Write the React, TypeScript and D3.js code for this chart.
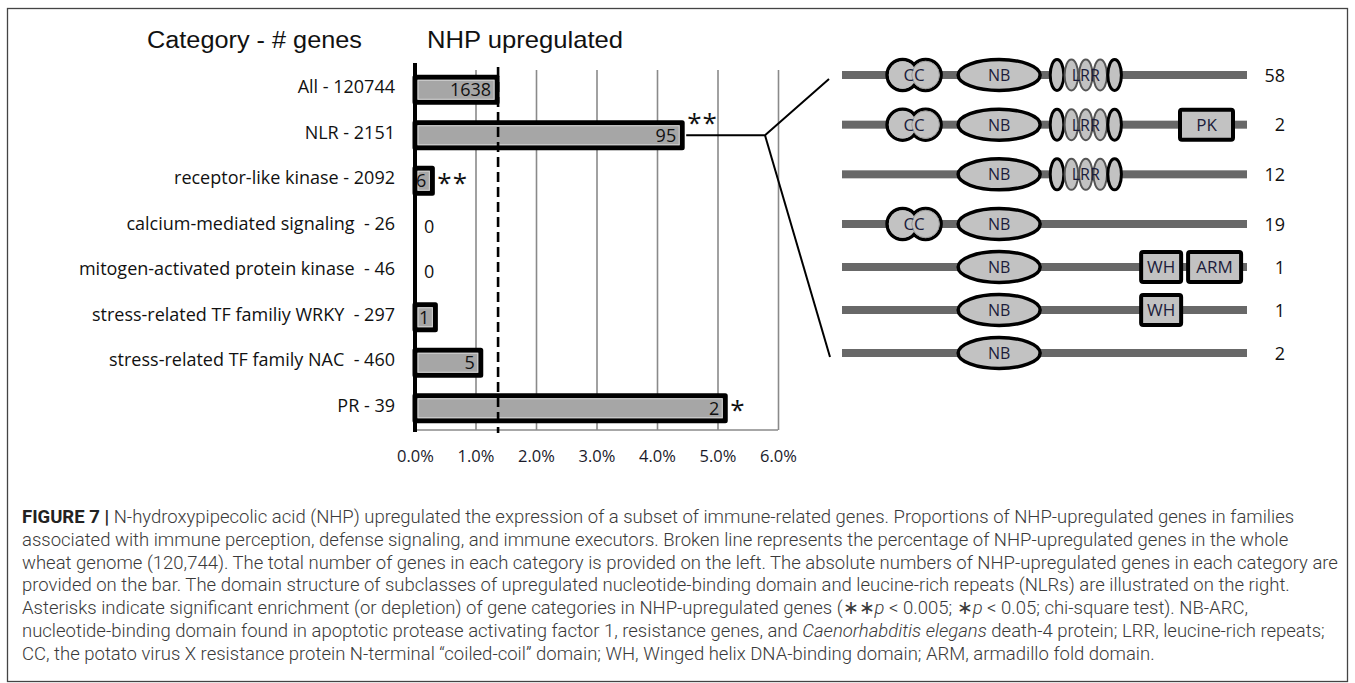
import React from "react";
import * as d3 from "d3";

// left panel: gene categories
const categories = [
    "All - 120744",
    "NLR - 2151",
    "receptor-like kinase - 2092",
    "calcium-mediated signaling  - 26",
    "mitogen-activated protein kinase  - 46",
    "stress-related TF familiy WRKY  - 297",
    "stress-related TF family NAC  - 460",
    "PR - 39",
];
const totalGenes = [120744, 2151, 2092, 26, 46, 297, 460, 39];
const upregulated = [1638, 95, 6, 0, 0, 1, 5, 2];
const significance = ["", "**", "**", "", "", "", "", "*"];
const xTicks = [0, 0.01, 0.02, 0.03, 0.04, 0.05, 0.06];

// right panel: NLR subclasses
const subclassDomains = [
    ["CC", "NB", "LRR"],
    ["CC", "NB", "LRR", "PK"],
    ["NB", "LRR"],
    ["CC", "NB"],
    ["NB", "WH", "ARM"],
    ["NB", "WH"],
    ["NB"],
];
const subclassCounts = [58, 2, 12, 19, 1, 1, 2];

const captionLines: { t: string; s?: "b" | "i" }[][] = [
    [{ t: "FIGURE 7 | ", s: "b" }, { t: "N-hydroxypipecolic acid (NHP) upregulated the expression of a subset of immune-related genes. Proportions of NHP-upregulated genes in families" }],
    [{ t: "associated with immune perception, defense signaling, and immune executors. Broken line represents the percentage of NHP-upregulated genes in the whole" }],
    [{ t: "wheat genome (120,744). The total number of genes in each category is provided on the left. The absolute numbers of NHP-upregulated genes in each category are" }],
    [{ t: "provided on the bar. The domain structure of subclasses of upregulated nucleotide-binding domain and leucine-rich repeats (NLRs) are illustrated on the right." }],
    [{ t: "Asterisks indicate significant enrichment (or depletion) of gene categories in NHP-upregulated genes (\u2217\u2217" }, { t: "p", s: "i" }, { t: " < 0.005; \u2217" }, { t: "p", s: "i" }, { t: " < 0.05; chi-square test). NB-ARC," }],
    [{ t: "nucleotide-binding domain found in apoptotic protease activating factor 1, resistance genes, and " }, { t: "Caenorhabditis elegans", s: "i" }, { t: " death-4 protein; LRR, leucine-rich repeats;" }],
    [{ t: "CC, the potato virus X resistance protein N-terminal \u201ccoiled-coil\u201d domain; WH, Winged helix DNA-binding domain; ARM, armadillo fold domain." }],
];

const W = 1355;
const H = 683;
const labelFont = "'Open Sans', 'DejaVu Sans', sans-serif";
const titleFont = "'Liberation Sans', Arial, sans-serif";

export default class App extends React.Component {
    private readonly svgRef = React.createRef<SVGSVGElement>();

    public render() {
        return <div style={{ position: "absolute", left: 0, top: 0 }}>
            <svg ref={this.svgRef} width={W} height={H}></svg>
        </div>;
    }

    public componentDidMount() {
        this.draw();
    }

    private readonly draw = (): void => {
        const svg = d3.select(this.svgRef.current);
        svg.selectAll("*").remove();
        svg.append("rect").attr("width", W).attr("height", H).attr("fill", "#fff");

        // frame
        svg.append("rect")
            .attr("x", 7.5).attr("y", 8.5).attr("width", 1340).attr("height", 673)
            .attr("fill", "none").attr("stroke", "#444").attr("stroke-width", 1.3);

        const rows = categories.map((label, i) => ({
            label,
            up: upregulated[i],
            sig: significance[i],
            pct: upregulated[i] / totalGenes[i],
        }));
        const basePct = rows[0].pct;

        const x = d3.scaleLinear().domain([0, 0.06]).range([415, 778]);
        const y = d3.scaleBand<string>().domain(categories).range([67, 431])
            .paddingInner(0.45).paddingOuter(0.225);
        const cy = (d: string) => (y(d) as number) + y.bandwidth() / 2;

        // titles
        svg.append("text").attr("x", 147).attr("y", 48)
            .attr("font-family", titleFont).attr("font-size", 23).attr("fill", "#111")
            .attr("textLength", 215).attr("lengthAdjust", "spacingAndGlyphs")
            .text("Category - # genes");
        svg.append("text").attr("x", 427).attr("y", 48)
            .attr("font-family", titleFont).attr("font-size", 24).attr("fill", "#111")
            .attr("textLength", 196).attr("lengthAdjust", "spacingAndGlyphs")
            .text("NHP upregulated");

        // gridlines
        svg.append("g")
            .attr("transform", "translate(0,430)")
            .call(d3.axisBottom(x).tickValues(xTicks.slice(1)).tickSize(-360).tickFormat(() => ""))
            .call(g => g.select(".domain").remove())
            .call(g => g.selectAll(".tick line").attr("stroke", "#8a8a8a").attr("stroke-width", 1.6));
        svg.append("line")
            .attr("x1", x(0)).attr("x2", x(0.06)).attr("y1", 430).attr("y2", 430)
            .attr("stroke", "#8a8a8a").attr("stroke-width", 1.6);

        // tick labels
        svg.append("g")
            .attr("transform", "translate(0,430)")
            .call(d3.axisBottom(x).tickValues(xTicks).tickSize(0).tickPadding(20).tickFormat(d3.format(".1%")))
            .call(g => g.select(".domain").remove())
            .call(g => g.selectAll(".tick text")
                .attr("font-family", labelFont).attr("font-size", 16.5).attr("fill", "#1a1a2a"));

        // category labels
        svg.append("g").selectAll("text").data(rows).enter().append("text")
            .attr("x", 395).attr("y", d => cy(d.label) + 3.5)
            .attr("text-anchor", "end")
            .attr("font-family", labelFont).attr("font-size", 18).attr("fill", "#111")
            .style("white-space", "pre")
            .text(d => d.label);

        // bars
        const bar = svg.append("g").selectAll("g").data(rows.filter(d => d.up > 0)).enter().append("g");
        bar.append("rect")
            .attr("x", x(0)).attr("y", d => y(d.label) as number)
            .attr("width", d => x(d.pct) - x(0)).attr("height", y.bandwidth())
            .attr("fill", "#a6a6a6").attr("stroke", "#000").attr("stroke-width", 5)
            .attr("stroke-linejoin", "round");
        bar.append("rect")
            .attr("x", x(0) + 3).attr("y", d => (y(d.label) as number) + 3)
            .attr("width", d => Math.max(0, x(d.pct) - x(0) - 6)).attr("height", y.bandwidth() - 6)
            .attr("fill", "none").attr("stroke", "#d4d4d4").attr("stroke-width", 1);

        // value labels
        svg.append("g").selectAll("text").data(rows).enter().append("text")
            .attr("x", d => d.up > 0 ? x(d.pct) - 6 : x(0) + 9)
            .attr("y", d => cy(d.label) + 6.5)
            .attr("text-anchor", d => d.up > 0 ? "end" : "start")
            .attr("font-family", labelFont).attr("font-size", 18).attr("fill", "#111")
            .text(d => d.up);

        // asterisks
        svg.append("g").selectAll("text").data(rows.filter(d => d.sig)).enter().append("text")
            .attr("x", d => x(d.pct) + 5)
            .attr("y", d => cy(d.label) + (d.label.startsWith("NLR") ? -3 : 11))
            .attr("font-family", labelFont).attr("font-size", 26).attr("fill", "#111")
            .attr("letter-spacing", 1)
            .text(d => d.sig);

        // left axis
        svg.append("line")
            .attr("x1", x(0)).attr("x2", x(0)).attr("y1", 63).attr("y2", 432)
            .attr("stroke", "#000").attr("stroke-width", 4);

        // whole genome baseline
        svg.append("line")
            .attr("x1", x(basePct) + 1).attr("x2", x(basePct) + 1).attr("y1", 67).attr("y2", 433)
            .attr("stroke", "#000").attr("stroke-width", 2.6).attr("stroke-dasharray", "10,5");

        // right panel
        const pos = d3.scaleLinear().domain([0, 100]).range([842, 1247]);
        const rowY = d3.scaleLinear().domain([0, 3, 6]).range([75, 224, 353]);
        const center: Record<string, number> = { CC: 17.8, NB: 38.8, LRR: 60.2, WH: 78.8, PK: 90, ARM: 92 };
        const boxW: Record<string, number> = { WH: 40, PK: 53, ARM: 53 };
        const domFill = "#c2c2c2";

        // connector from NLR bar
        const nlr = rows[1];
        const jx = 765;
        svg.append("path")
            .attr("d", d3.line()([[x(nlr.pct) + 4, cy(nlr.label)], [jx, cy(nlr.label)], [pos(0) - 13, rowY(0) + 4]]))
            .attr("fill", "none").attr("stroke", "#000").attr("stroke-width", 2);
        svg.append("path")
            .attr("d", d3.line()([[jx, cy(nlr.label)], [pos(0) - 12, rowY(6) + 4]]))
            .attr("fill", "none").attr("stroke", "#000").attr("stroke-width", 2);

        subclassDomains.forEach((doms, r) => {
            const g = svg.append("g").attr("transform", `translate(0,${rowY(r)})`);
            g.append("rect")
                .attr("x", pos(0)).attr("y", -4).attr("width", pos(100) - pos(0)).attr("height", 8)
                .attr("fill", "#686868");

            doms.forEach(dm => {
                const cx = pos(center[dm]);
                if (dm === "CC") {
                    const cs = [cx - 11.5, cx + 11.5];
                    g.selectAll(null).data(cs).enter().append("circle")
                        .attr("cx", d => d).attr("cy", 0).attr("r", 15.5)
                        .attr("fill", domFill).attr("stroke", "#000").attr("stroke-width", 3.5);
                    g.selectAll(null).data(cs).enter().append("circle")
                        .attr("cx", d => d).attr("cy", 0).attr("r", 13.8)
                        .attr("fill", domFill).attr("stroke", (d, i) => i === 1 ? "#999" : "none").attr("stroke-width", 1);
                } else if (dm === "NB") {
                    g.append("ellipse").attr("cx", cx).attr("cy", 0).attr("rx", 41).attr("ry", 15.5)
                        .attr("fill", domFill).attr("stroke", "#000").attr("stroke-width", 3.5);
                } else if (dm === "LRR") {
                    g.selectAll(null).data(d3.range(5)).enter().append("ellipse")
                        .attr("cx", k => cx + (k - 2) * 14.4).attr("cy", 0).attr("rx", 6.8).attr("ry", 15.5)
                        .attr("fill", domFill)
                        .attr("stroke", k => k === 0 || k === 4 ? "#000" : "#555")
                        .attr("stroke-width", k => k === 0 || k === 4 ? 3 : 2);
                } else {
                    const bw = boxW[dm];
                    g.append("rect").attr("x", cx - bw / 2).attr("y", -15).attr("width", bw).attr("height", 30)
                        .attr("rx", 2)
                        .attr("fill", domFill).attr("stroke", "#000").attr("stroke-width", 4);
                }
                g.append("text")
                    .attr("x", cx).attr("y", 6)
                    .attr("text-anchor", "middle")
                    .attr("font-family", labelFont)
                    .attr("font-size", dm === "LRR" ? 16 : dm === "NB" ? 16 : 17)
                    .attr("fill", "#1c1c3a")
                    .text(dm);
            });

            g.append("text")
                .attr("x", 1285).attr("y", 6.5)
                .attr("text-anchor", "end")
                .attr("font-family", labelFont).attr("font-size", 18).attr("fill", "#111")
                .text(subclassCounts[r]);
        });

        // caption
        const cap = svg.append("g")
            .attr("font-family", "Roboto, 'Liberation Sans', sans-serif")
            .attr("font-size", 18.5).attr("fill", "#3a3a3a");
        captionLines.forEach((parts, i) => {
            const t = cap.append("text").attr("x", 22).attr("y", 523 + i * 22.8).style("white-space", "pre");
            parts.forEach(p => {
                t.append("tspan")
                    .attr("font-weight", p.s === "b" ? 700 : 300)
                    .attr("font-style", p.s === "i" ? "italic" : "normal")
                    .attr("fill", p.s === "b" ? "#222" : null)
                    .text(p.t);
            });
        });
    }
}
